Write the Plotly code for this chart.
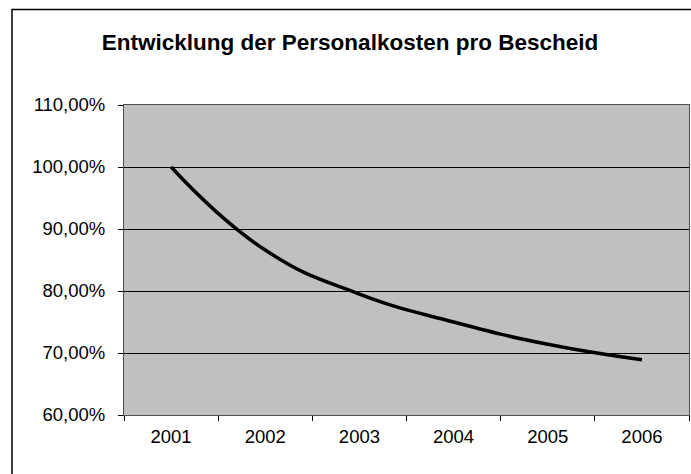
import plotly.graph_objects as go

years = ["2001", "2002", "2003", "2004", "2005", "2006"]
kosten = [1.000, 0.866, 0.795, 0.750, 0.714, 0.689]

W, H = 691, 474
ml, mr, mt, mb = 124, 2, 105, 59
pw, ph = W - ml - mr, H - mt - mb

def px_x(p):
    return (p - ml) / pw

def px_y(p):
    return (H - mb - p) / ph

fig = go.Figure()
fig.add_trace(go.Scatter(
    x=years, y=kosten, mode="lines",
    line=dict(color="black", width=3.5, shape="spline", smoothing=1.3),
    hoverinfo="skip", showlegend=False,
))

fig.add_shape(type="rect", xref="paper", yref="paper",
              x0=px_x(12), x1=px_x(700), y0=px_y(490), y1=px_y(9.5),
              line=dict(color="black", width=1.5), fillcolor="rgba(0,0,0,0)",
              layer="below")

fig.update_layout(
    width=W, height=H,
    margin=dict(l=ml, r=mr, t=mt, b=mb, pad=0),
    paper_bgcolor="white", plot_bgcolor="#C0C0C0",
    separators=",.",
    font=dict(family="Liberation Sans, Arial, sans-serif", size=18.5, color="black"),
    title=dict(text="<b>Entwicklung der Personalkosten pro Bescheid</b>",
               x=350 / W, xanchor="center", y=1 - 42 / H, yanchor="middle",
               font=dict(size=22.5, color="black")),
    xaxis=dict(type="category", range=[-0.5, 5.5], tickson="boundaries",
               ticks="outside", ticklen=5, tickcolor="black",
               showgrid=False, showline=True, linecolor="#505050", linewidth=1,
               mirror=True, zeroline=False, ticklabelstandoff=5),
    yaxis=dict(range=[0.6, 1.1], dtick=0.1, tick0=0.6, tickformat=".2%",
               ticks="outside", ticklen=5, tickcolor="black",
               showgrid=True, gridcolor="black", gridwidth=1,
               showline=True, linecolor="#505050", linewidth=1, mirror=True,
               zeroline=False, ticklabelstandoff=9),
)

fig.write_html("out.html")
